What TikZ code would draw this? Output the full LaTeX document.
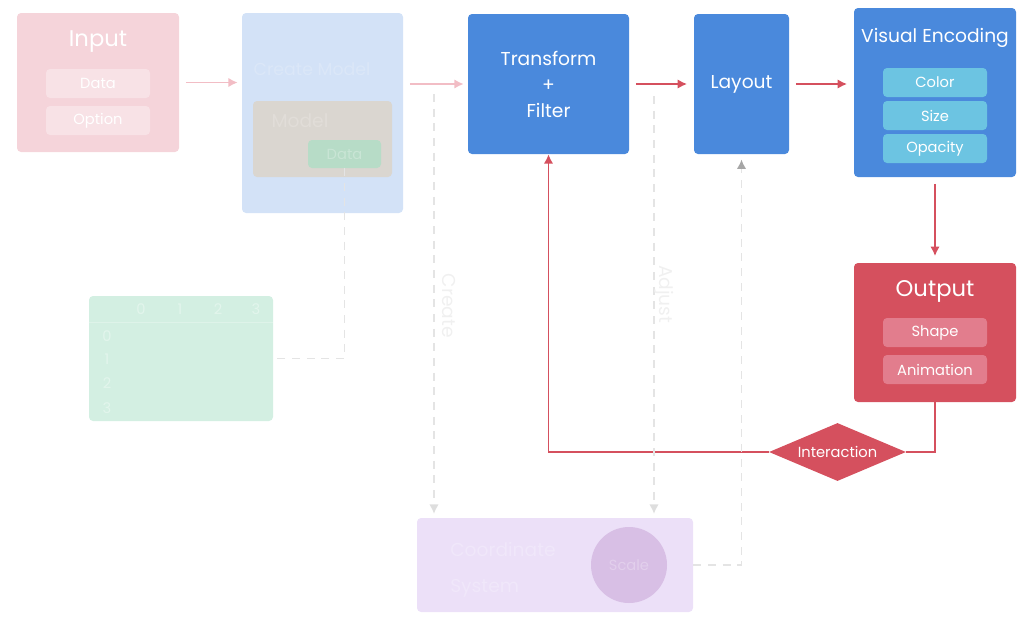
\documentclass[tikz,border=0pt]{standalone}
\usepackage{fontspec}
\setmainfont{Poppins}
\usetikzlibrary{arrows.meta,positioning,shapes.geometric}
\definecolor{pinkbg}{HTML}{F5D4DA}
\definecolor{pinksub}{HTML}{F8E2E6}
\definecolor{pinkline}{HTML}{F2BDC5}
\definecolor{bluelight}{HTML}{D3E2F7}
\definecolor{modelgrey}{HTML}{DAD6D0}
\definecolor{datagreen}{HTML}{B7DCC7}
\definecolor{mainblue}{HTML}{4A89DC}
\definecolor{subcyan}{HTML}{6CC4E2}
\definecolor{mainred}{HTML}{D5505E}
\definecolor{subred}{HTML}{E27D8D}
\definecolor{tablegreen}{HTML}{D3EFE2}
\definecolor{coordpurple}{HTML}{ECE0F8}
\definecolor{scalepurple}{HTML}{D8BFE5}
\definecolor{dashgrey}{HTML}{E4E4E4}

\begin{document}
\begin{tikzpicture}[x=0.75pt,y=-0.75pt,>=Latex,
 box/.style={rounded corners=3pt,inner sep=0pt,text=white},
 sub/.style={box,minimum width=78pt,minimum height=21.75pt,font=\fontsize{11}{13}\selectfont},
 ghost/.style={inner sep=0pt},
 flow/.style={->,line width=1.3pt,draw=mainred,shorten <=5pt,shorten >=5pt,>={Latex[length=7pt,width=7pt]}},
 faint/.style={->,line width=1.3pt,draw=pinkline,shorten <=5pt,shorten >=3pt,>={Latex[length=7pt,width=7pt]}},
 guide/.style={dashed,dash pattern=on 6pt off 5pt,line width=0.9pt,draw=dashgrey}]
\useasboundingbox (0,0) rectangle (1033,626);

% faded stages
\node[box,fill=pinkbg,minimum width=121.5pt,minimum height=104.25pt] (input) at (98,82.5) {};
\node[ghost,text=white,font=\fontsize{17}{20}\selectfont] (inputT) at (98,42) {Input};
\node[sub,fill=pinksub] (inData) at (98,83.5) {Data};
\node[sub,fill=pinksub] (inOption) at (98,120.5) {Option};

\node[box,fill=bluelight,minimum width=120.75pt,minimum height=150pt] (create) at (322.5,113) {};
\node[ghost,text=white!18!bluelight,font=\fontsize{13}{15}\selectfont] (createT) at (312,69) {Create Model};
\node[box,fill=modelgrey,minimum width=104.25pt,minimum height=57pt] (model) at (322.5,139) {};
\node[ghost,text=white!18!modelgrey,font=\fontsize{14}{16}\selectfont] (modelT) at (300,121) {Model};
\node[sub,fill=datagreen,text=white!25!datagreen,minimum width=54.75pt,minimum height=21pt] (modelData) at (344.5,154) {Data};

\node[box,fill=tablegreen,minimum width=138pt,minimum height=93.75pt] (table) at (181,358.5) {};
\draw[white!25!tablegreen,line width=0.6pt] (table.west |- 0,322) -- (table.east |- 0,322);
\foreach \c/\x in {0/141,1/180,2/218,3/256}
  \node[ghost,text=white!35!tablegreen,font=\fontsize{11}{13}\selectfont] at (\x,309) {\c};
\foreach \r/\y in {0/336,1/359,2/383,3/408}
  \node[ghost,text=white!35!tablegreen,font=\fontsize{11}{13}\selectfont] at (107,\y) {\r};

\node[box,fill=coordpurple,minimum width=207pt,minimum height=70.5pt] (coord) at (555,565) {};
\node[ghost,anchor=west,text=white!22!coordpurple,font=\fontsize{14}{16}\selectfont] (coordT) at (450,549) {Coordinate};
\node[ghost,anchor=west,text=white!22!coordpurple,font=\fontsize{14}{16}\selectfont] (systemT) at (450,588) {System};
\node[circle,fill=scalepurple,minimum size=57pt,inner sep=0pt,text=white!25!scalepurple,font=\fontsize{11}{13}\selectfont] (scale) at (629,565) {Scale};

% main stages
\node[box,fill=mainblue,minimum width=120.75pt,minimum height=105pt,align=center,font=\fontsize{14}{19.5}\selectfont] (transform) at (548.5,84) {Transform\\+\\Filter};
\node[box,fill=mainblue,minimum width=71.25pt,minimum height=105pt,font=\fontsize{14}{16}\selectfont] (layout) at (741.5,84) {\raisebox{-2pt}{Layout}};

\node[box,fill=mainblue,minimum width=121.5pt,minimum height=126.75pt] (visual) at (935,92.5) {};
\node[ghost,text=white,font=\fontsize{14}{16}\selectfont] (visualT) at (935,38) {Visual Encoding};
\node[sub,fill=subcyan] (color) at (935,82.5) {Color};
\node[sub,fill=subcyan] (size) at (935,115.5) {Size};
\node[sub,fill=subcyan] (opacity) at (935,148.5) {Opacity};

\node[box,fill=mainred,minimum width=121.5pt,minimum height=104.25pt] (output) at (935,332.5) {};
\node[ghost,text=white,font=\fontsize{17}{20}\selectfont] (outputT) at (935,291) {Output};
\node[sub,fill=subred] (shape) at (935,332.5) {Shape};
\node[sub,fill=subred] (anim) at (935,369.5) {Animation};

\node[diamond,aspect=2.4,fill=mainred,text=white,inner sep=0pt,minimum width=102.75pt,minimum height=43.5pt,font=\fontsize{11}{13}\selectfont] (inter) at (837.5,452) {Interaction};

% connectors
\draw[faint] (input.east) -- (input.east -| create.west);
\draw[faint] (create.east |- transform.west) -- (transform);
\draw[flow] (transform) -- (layout);
\draw[flow] (layout.east) -- (visual.west |- layout.east);
\draw[flow] (visual) -- (output);
\draw[line width=1.3pt,draw=mainred] (output.south) |- (inter.east);
\draw[flow,shorten <=0pt,shorten >=0pt] (inter.west) -| (transform.south);

\coordinate (createTop) at (434,94);
\coordinate (adjustTop) at (654,96);
\draw[guide] (modelData.south) |- (table.east);
\draw[guide,-{Latex[length=7pt,width=7pt,color=black!13]},shorten >=3pt] (createTop) -- node[ghost,right=6pt,rotate=-90,anchor=south,text=black!6,font=\fontsize{14}{16}\selectfont] {Create} (createTop |- coord.north);
\draw[guide,-{Latex[length=7pt,width=7pt,color=black!13]},shorten >=3pt] (adjustTop) -- node[ghost,pos=0.47,rotate=-90,anchor=south,text=black!6,font=\fontsize{14}{16}\selectfont] {Adjust} (adjustTop |- coord.north);
\draw[guide,-{Latex[length=7pt,width=7pt,color=black!35]},shorten >=4pt] (coord.east) -| (layout.south);
\end{tikzpicture}
\end{document}
